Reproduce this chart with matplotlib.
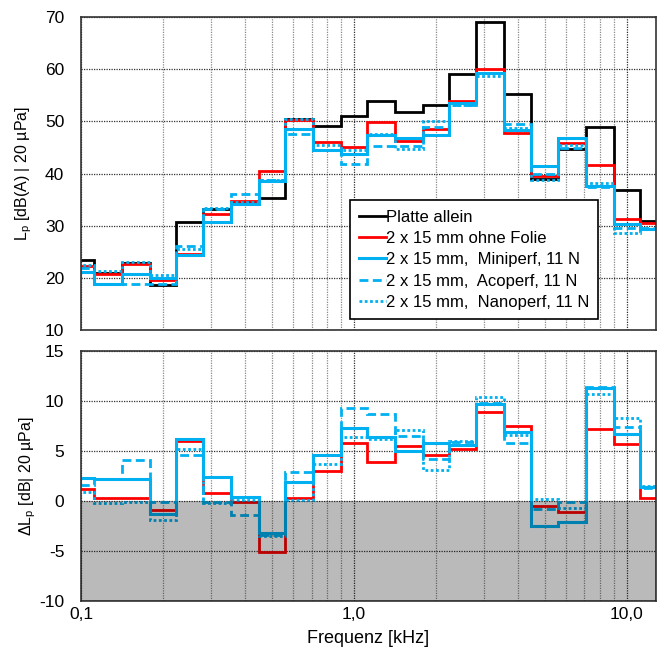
import numpy as np
import matplotlib
matplotlib.use("Agg")
import matplotlib.pyplot as plt
from matplotlib.ticker import FixedLocator, FixedFormatter, NullFormatter
from matplotlib.lines import Line2D

plt.rcParams['font.family'] = ['Liberation Sans', 'DejaVu Sans']
plt.rcParams['mathtext.fontset'] = 'custom'
plt.rcParams['mathtext.rm'] = 'Liberation Sans'
plt.rcParams['mathtext.it'] = 'Liberation Sans:italic'
plt.rcParams['axes.unicode_minus'] = False
plt.rcParams['font.size'] = 12

# third-octave band centres [kHz]
centers = np.array([0.1, 0.125, 0.16, 0.2, 0.25, 0.315, 0.4, 0.5, 0.63, 0.8, 1.0,
                    1.25, 1.6, 2.0, 2.5, 3.15, 4.0, 5.0, 6.3, 8.0, 10.0, 12.5])

# sound pressure level, plate alone [dB(A)]
platte = np.array([23.4, 21.0, 22.9, 18.7, 30.65, 33.1, 34.6, 35.3, 50.5, 49.1, 51.0,
                   53.85, 51.8, 53.1, 59.1, 69.0, 55.25, 39.0, 44.7, 48.85, 36.9, 30.85])

# level differences (plate alone minus configuration) [dB]
d_ohne = np.array([1.2, 0.35, 0.3, -0.9, 6.05, 0.8, -0.13, -5.1, 0.27, 3.03, 5.83,
                   3.9, 5.55, 4.6, 5.2, 8.9, 7.5, -0.5, -1.07, 7.17, 5.7, 0.33])
d_mini = np.array([2.3, 2.2, 2.25, -1.3, 6.2, 2.45, 0.45, -3.2, 1.93, 4.65, 7.3,
                   6.43, 5.03, 5.77, 5.65, 9.7, 6.93, -2.5, -2.07, 11.33, 6.67, 1.43])
d_aco = np.array([1.6, 2.2, 4.1, -0.1, 4.6, -0.1, -1.4, -3.4, 2.95, 4.6, 9.27,
                  8.67, 6.55, 4.17, 5.93, 9.8, 5.83, -0.83, -0.13, 11.43, 7.37, 1.3])
d_nano = np.array([0.9, -0.23, -0.07, -1.9, 5.2, -0.23, 0.1, -3.5, 0.1, 3.7, 6.43,
                   6.2, 7.1, 3.1, 6.0, 10.4, 6.6, 0.17, -0.73, 10.7, 8.27, 1.5])

labels = ["Platte allein", "2 x 15 mm ohne Folie", "2 x 15 mm,  Miniperf, 11 N",
          "2 x 15 mm,  Acoperf, 11 N", "2 x 15 mm,  Nanoperf, 11 N"]
tick_labels = ['0,1', '1,0', '10,0']

# band edges from band centres
mid = np.sqrt(centers[:-1] * centers[1:])
edges = np.concatenate([[centers[0] / 2 ** (1 / 6)], mid, [centers[-1] * 2 ** (1 / 6)]])

BLUE = '#00B0F0'
RED = '#FF0000'
styles = [
    dict(color='black', lw=2.0, ls='-'),
    dict(color=RED, lw=2.0, ls='-'),
    dict(color=BLUE, lw=2.2, ls='-'),
    dict(color=BLUE, lw=2.0, ls=(0, (3.2, 1.6))),
    dict(color=BLUE, lw=2.0, ls=(0, (1.0, 0.9))),
]

W, H = 662, 655
fig = plt.figure(figsize=(W / 100, H / 100), dpi=100)
ax1 = fig.add_axes([81 / W, 1 - 330 / H, 575 / W, 313 / H])
ax2 = fig.add_axes([81 / W, 1 - 601 / H, 575 / W, 250 / H])

xmin, xmax = 0.1, 12.8
maj = [0.1, 1.0, 10.0]
minor = [k * 0.1 for k in range(2, 10)] + [float(k) for k in range(2, 10)]

for ax in (ax1, ax2):
    ax.set_xscale('log')
    ax.set_xlim(xmin, xmax)
    ax.xaxis.set_major_locator(FixedLocator(maj))
    ax.xaxis.set_minor_locator(FixedLocator(minor))
    ax.xaxis.set_minor_formatter(NullFormatter())
    ax.grid(True, which='major', axis='both', color='#303030', ls=(0, (1, 1)), lw=0.9)
    ax.grid(True, which='minor', axis='x', color='#8a8a8a', ls=(0, (1, 1)), lw=0.9)
    ax.set_axisbelow(True)
    ax.tick_params(which='both', length=0)
    ax.tick_params(axis='y', pad=12, labelsize=12.5)
    ax.tick_params(axis='x', pad=4, labelsize=12.5)
    for s in ax.spines.values():
        s.set_color('#333333')
        s.set_linewidth(1.2)

# top panel
series_top = [platte, platte - d_ohne, platte - d_mini, platte - d_aco, platte - d_nano]
for vals, st, lab in zip(series_top, styles, labels):
    ax1.stairs(vals, edges, baseline=None, label=lab, **st)
ax1.set_ylim(10, 70)
ax1.set_yticks(np.arange(10, 71, 10))
ax1.xaxis.set_major_formatter(NullFormatter())
ax1.set_ylabel(r'L$_\mathrm{p}$ [dB(A) | 20 µPa]', fontsize=11.5)
ax1.yaxis.set_label_coords(-0.082, 0.5)

leg_handles = [Line2D([], [], **st) for st in styles]
leg = ax1.legend(leg_handles, labels, loc='lower left', bbox_to_anchor=(0.468, 0.035),
                 borderaxespad=0, frameon=True, fancybox=False, edgecolor='black',
                 framealpha=1, fontsize=12, handlelength=1.6, handletextpad=0.0,
                 labelspacing=0.38, borderpad=0.55)
leg.get_frame().set_linewidth(1.2)

# bottom panel
deltas = [d_ohne, d_mini, d_aco, d_nano]
for vals, st in zip(deltas, styles[1:]):
    ax2.stairs(vals, edges, baseline=None, **st)
ax2.set_ylim(-10, 15)
ax2.set_yticks(np.arange(-10, 16, 5))
ax2.axhspan(-10, 0, color=(0, 0, 0, 0.27), lw=0, zorder=5)
ax2.xaxis.set_major_formatter(FixedFormatter(tick_labels))
ax2.set_ylabel(r'$\Delta$L$_\mathrm{p}$ [dB| 20 µPa]', fontsize=11.5)
ax2.yaxis.set_label_coords(-0.075, 0.5)
ax2.set_xlabel('Frequenz [kHz]', fontsize=13, labelpad=6)

fig.savefig('out.png', dpi=100)
